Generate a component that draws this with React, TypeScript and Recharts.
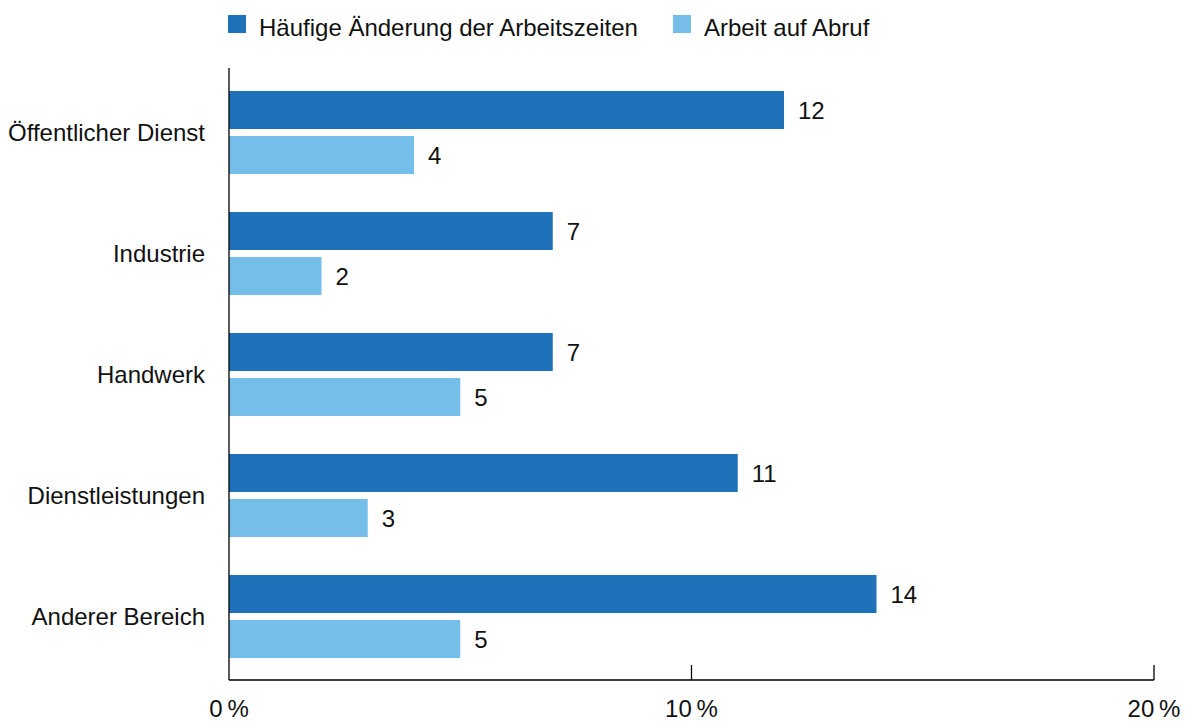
import React from "react";
import { BarChart, Bar, XAxis, YAxis, Legend, LabelList } from "recharts";

const CATEGORIES = [
  "Öffentlicher Dienst",
  "Industrie",
  "Handwerk",
  "Dienstleistungen",
  "Anderer Bereich",
];
const HAEUFIGE_AENDERUNG = [12, 7, 7, 11, 14];
const ARBEIT_AUF_ABRUF = [4, 2, 5, 3, 5];
const X_TICKS = [0, 10, 20];

const DARK = "#1f71b9";
const LIGHT = "#76beea";
const TEXT = "#111111";
const FONT = '"Liberation Sans", Arial, sans-serif';

const SERIES = [
  { key: "haeufig", name: "Häufige Änderung der Arbeitszeiten", color: DARK },
  { key: "abruf", name: "Arbeit auf Abruf", color: LIGHT },
];

const data = CATEGORIES.map((name, i) => ({
  name,
  haeufig: HAEUFIGE_AENDERUNG[i],
  abruf: ARBEIT_AUF_ABRUF[i],
}));

function LegendContent() {
  return (
    <div style={{ display: "flex", fontFamily: FONT, fontSize: 24, color: TEXT }}>
      {SERIES.map((s) => (
        <div
          key={s.key}
          style={{ display: "flex", alignItems: "flex-start", marginRight: 35 }}
        >
          <span
            style={{
              width: 18,
              height: 18,
              marginTop: 1.5,
              marginRight: 13,
              background: s.color,
              display: "inline-block",
            }}
          />
          <span style={{ lineHeight: "27px", whiteSpace: "nowrap" }}>{s.name}</span>
        </div>
      ))}
    </div>
  );
}

// tick mark points up into the plot, label sits below the axis
function XTick({ x, y, payload }: { x?: number; y?: number; payload?: { value: number } }) {
  if (x == null || y == null || !payload) return null;
  return (
    <g>
      {payload.value !== 0 && (
        <line x1={x} x2={x} y1={y} y2={y - 15} stroke="#000" strokeWidth={1.3} />
      )}
      <text
        x={x}
        y={y + 37}
        textAnchor="middle"
        fill={TEXT}
        fontSize={24}
        fontFamily={FONT}
      >
        {`${payload.value}\u2009%`}
      </text>
    </g>
  );
}

export default function App() {
  return (
    <div style={{ position: "absolute", left: 0, top: 0, background: "#fff" }}>
      <BarChart
        width={1187}
        height={722}
        data={data}
        layout="vertical"
        margin={{ top: 68, right: 33, bottom: 0, left: 0 }}
        barSize={38}
        barGap={7}
      >
        <Legend
          content={<LegendContent />}
          layout="horizontal"
          verticalAlign="middle"
          align="center"
          wrapperStyle={{ top: 13.5, left: 228, width: 900 }}
        />
        <XAxis
          type="number"
          domain={[0, 20]}
          ticks={X_TICKS}
          height={42}
          axisLine={{ stroke: "#000", strokeWidth: 1.3 }}
          tickLine={false}
          tickSize={0}
          tickMargin={0}
          tick={<XTick />}
          interval={0}
        />
        <YAxis
          type="category"
          dataKey="name"
          width={229}
          padding={{ top: 4, bottom: 3 }}
          axisLine={{ stroke: "#000", strokeWidth: 1.3 }}
          tickLine={false}
          tickSize={0}
          tickMargin={24}
          interval={0}
          tick={{ fill: TEXT, fontSize: 24, fontFamily: FONT }}
        />
        {SERIES.map((s) => (
          <Bar
            key={s.key}
            dataKey={s.key}
            name={s.name}
            fill={s.color}
            isAnimationActive={false}
          >
            <LabelList
              dataKey={s.key}
              position="right"
              offset={14}
              fill={TEXT}
              fontSize={24}
              fontFamily={FONT}
            />
          </Bar>
        ))}
      </BarChart>
    </div>
  );
}
